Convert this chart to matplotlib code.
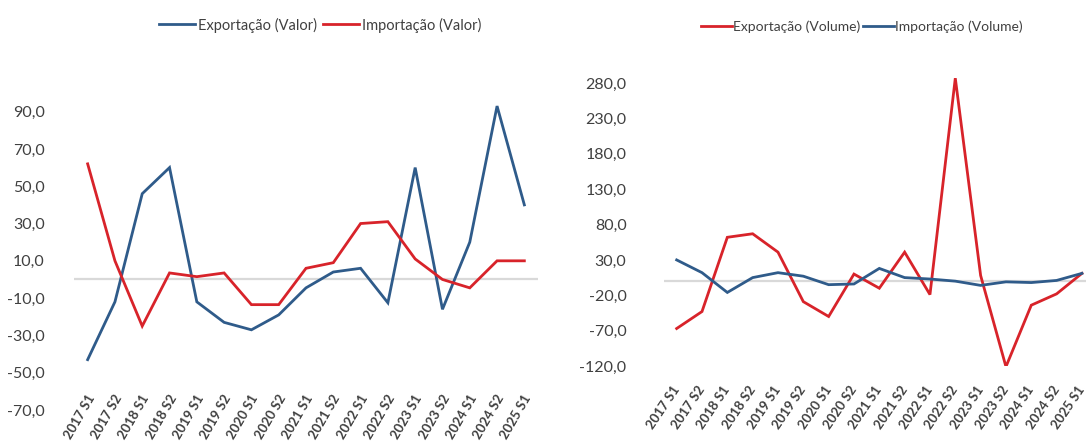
import matplotlib

matplotlib.use("Agg")
import matplotlib.pyplot as plt
from matplotlib.lines import Line2D

BLUE = "#2f5b8a"
RED = "#d8232a"
GRAY = "#d9d9d9"
INK = "#404040"

plt.rcParams["font.family"] = ["Lato", "DejaVu Sans"]

periods = [
    "2017 S1", "2017 S2", "2018 S1", "2018 S2", "2019 S1", "2019 S2",
    "2020 S1", "2020 S2", "2021 S1", "2021 S2", "2022 S1", "2022 S2",
    "2023 S1", "2023 S2", "2024 S1", "2024 S2", "2025 S1",
]

# valor (%)
exp_valor = [-43, -12, 46, 60, -12, -23, -27, -19, -4.5, 4, 6, -12.5,
             60, -16, 20, 93, 40]
imp_valor = [62, 10, -25, 3.5, 1.5, 3.5, -13.5, -13.5, 6, 9, 30, 31,
             11, 0, -4.5, 10, 10]

# volume (%)
exp_volume = [-67, -43, 62, 67, 41, -29, -50, 10, -10, 41, -19, 287,
              8, -121, -34, -18, 11]
imp_volume = [30, 12, -16, 5, 12, 7, -5, -4, 18, 5, 3, 0,
              -6, -1, -2, 1, 11]

ticks_valor = list(range(-70, 91, 20))
ticks_volume = list(range(-120, 281, 50))


def fmt(v):
    return f"{v:.1f}".replace(".", ",")


def panel(ax, series, yticks, ylim, label_y, label_rot, ypad, xoff):
    x = list(range(len(periods)))
    ax.axhline(0, color=GRAY, lw=1.6, zorder=1)
    for vals, color in series:
        ax.plot(x, vals, color=color, lw=2.0, zorder=3, solid_joinstyle="miter")
    ax.set_ylim(*ylim)
    ax.set_yticks(yticks)
    ax.set_yticklabels([fmt(v) for v in yticks], fontsize=11.5, color=INK)
    ax.tick_params(axis="y", length=0, pad=ypad)
    ax.set_xticks([])
    for s in ax.spines.values():
        s.set_visible(False)
    for i, lab in enumerate(periods):
        ax.text(i + xoff, label_y, lab, transform=ax.get_xaxis_transform(),
                rotation=label_rot, rotation_mode="anchor", ha="right",
                va="center", fontsize=9.5, fontweight="bold", color=INK)


fig = plt.figure(figsize=(10.86, 4.48), dpi=100)

# left: valor
ax1 = fig.add_axes([74 / 1086, 38 / 448, 464 / 1086, 317 / 448])
panel(ax1, [(exp_valor, BLUE), (imp_valor, RED)], ticks_valor,
      (-70, 100), 0.045, 60, 21, 0.15)
ax1.set_xlim(-0.5, 16.5)

# right: volume
ax2 = fig.add_axes([664 / 1086, 82 / 448, 422 / 1086, 297 / 448])
panel(ax2, [(exp_volume, RED), (imp_volume, BLUE)], ticks_volume,
      (-120, 300), -0.07, 56, 27, 0.0)
ax2.set_xlim(-0.5, 16.16)

# legends above each panel
h_l = [Line2D([], [], color=BLUE, lw=2), Line2D([], [], color=RED, lw=2)]
fig.legend(h_l, ["Exportação (Valor)", "Importação (Valor)"],
           loc="center", bbox_to_anchor=(320 / 1086, 1 - 25 / 448), ncol=2,
           frameon=False, fontsize=10.5, handlelength=2.5, handletextpad=0.2,
           columnspacing=0.4, labelcolor=INK)
h_r = [Line2D([], [], color=RED, lw=2), Line2D([], [], color=BLUE, lw=2)]
fig.legend(h_r, ["Exportação (Volume)", "Importação (Volume)"],
           loc="center", bbox_to_anchor=(862 / 1086, 1 - 27 / 448), ncol=2,
           frameon=False, fontsize=10, handlelength=2.2, handletextpad=0.1,
           columnspacing=0.2, labelcolor=INK)

fig.savefig("out.png", dpi=100)
